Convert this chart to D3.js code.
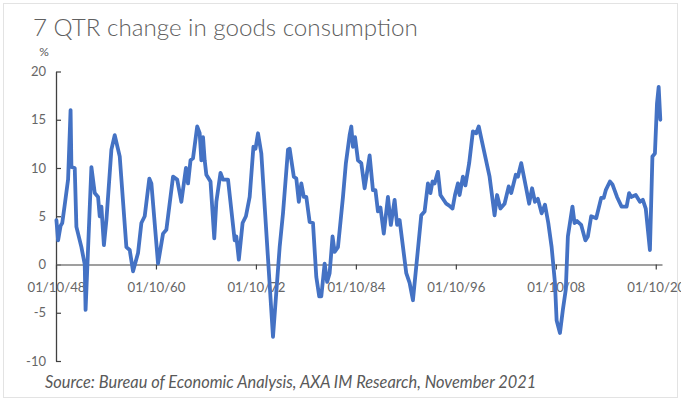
<!DOCTYPE html>
<html>
<head>
<meta charset="utf-8">
<script src="https://cdn.jsdelivr.net/npm/d3@7"></script>
<style>
  html, body { margin: 0; padding: 0; background: #ffffff; }
  svg { display: block; }
</style>
</head>
<body>
<svg id="chart" width="681" height="401"></svg>
<script>
// ---- Data ----
const titleText = "7 QTR change in goods consumption";
const unitLabel = "%";
const sourceText = "Source: Bureau of Economic Analysis, AXA IM Research, November 2021";

const years = [
  1948.8, 1949.0, 1949.3, 1949.5, 1949.8, 1950.2, 1950.5, 1950.6, 1951.0, 1951.2,
  1951.8, 1952.2, 1952.3, 1953.0, 1953.4, 1953.8, 1954.0, 1954.2, 1954.5, 1954.8,
  1955.4, 1955.8, 1956.4, 1957.2, 1957.6, 1958.0, 1958.6, 1959.0, 1959.4, 1959.95,
  1960.2, 1961.0, 1961.6, 1962.0, 1962.8, 1963.3, 1963.8, 1964.35, 1964.6, 1964.9,
  1965.2, 1965.7, 1966.0, 1966.2, 1966.4, 1966.6, 1966.8, 1967.3, 1967.75, 1968.0,
  1968.5, 1968.8, 1969.4, 1970.2, 1970.4, 1970.7, 1971.15, 1971.55, 1972.0, 1972.45,
  1972.7, 1973.0, 1973.4, 1974.8, 1975.6, 1976.0, 1976.6, 1976.8, 1977.3, 1977.6,
  1977.9, 1978.2, 1978.5, 1978.8, 1979.2, 1979.6, 1980.0, 1980.35, 1980.6, 1981.0,
  1981.3, 1981.6, 1981.95, 1982.2, 1982.6, 1983.2, 1983.55, 1984.0, 1984.2, 1984.4,
  1984.65, 1985.0, 1985.4, 1985.8, 1986.4, 1986.8, 1987.1, 1987.4, 1987.7, 1988.1,
  1988.6, 1988.95, 1989.4, 1989.7, 1990.0, 1990.8, 1991.2, 1991.6, 1992.0, 1992.6,
  1993.0, 1993.4, 1993.7, 1993.95, 1994.2, 1994.6, 1994.9, 1995.6, 1995.95, 1996.35,
  1996.65, 1997.0, 1997.2, 1997.6, 1997.9, 1998.35, 1998.8, 1999.2, 1999.5, 1999.8,
  2000.8, 2001.4, 2001.7, 2002.1, 2002.6, 2003.1, 2003.4, 2003.95, 2004.2, 2004.6,
  2005.15, 2005.55, 2005.9, 2006.25, 2006.6, 2007.05, 2007.45, 2007.85, 2008.25, 2008.65,
  2008.85, 2009.25, 2009.6, 2009.95, 2010.2, 2010.75, 2011.0, 2011.3, 2011.8, 2012.3,
  2012.6, 2013.0, 2013.6, 2014.2, 2014.5, 2014.75, 2015.25, 2015.55, 2016.1, 2016.65,
  2017.25, 2017.55, 2017.8, 2018.35, 2018.85, 2019.2, 2019.55, 2020.05, 2020.35, 2020.65,
  2020.9, 2021.1, 2021.3
];

const values = [
  4.6, 2.5, 4.0, 4.3, 6.2, 8.8, 16.0, 10.1, 10.0, 3.9,
  1.8, 0.0, -4.7, 10.1, 7.4, 7.0, 5.0, 6.0, 2.0, 4.6,
  11.9, 13.4, 11.2, 1.8, 1.5, -0.7, 1.2, 4.3, 5.0, 8.9,
  8.4, 0.1, 3.2, 3.6, 9.1, 8.8, 6.5, 10.0, 8.4, 10.8,
  11.0, 14.3, 13.6, 10.8, 13.2, 10.8, 9.3, 8.6, 2.7, 6.5,
  9.5, 8.8, 8.8, 2.5, 2.9, 0.5, 4.3, 5.0, 7.0, 12.2,
  12.0, 13.6, 11.5, -7.5, 1.8, 5.3, 11.9, 12.0, 9.1, 8.9,
  6.5, 8.4, 7.0, 7.0, 4.4, 4.3, -1.3, -3.3, -3.3, 0.1,
  -1.8, -0.9, 2.9, 1.3, 1.8, 7.0, 10.5, 13.4, 14.3, 12.2,
  13.2, 10.8, 10.5, 7.9, 11.3, 7.7, 7.7, 5.5, 5.9, 3.2,
  7.0, 4.1, 6.7, 4.1, 4.6, -0.9, -1.9, -3.7, -0.2, 5.1,
  5.5, 8.4, 7.4, 8.6, 8.4, 9.6, 7.2, 6.3, 6.1, 5.8,
  7.2, 8.4, 7.2, 9.1, 8.2, 10.5, 13.8, 13.6, 14.3, 13.1,
  9.1, 5.1, 7.2, 5.8, 6.3, 8.1, 7.4, 9.3, 9.1, 10.5,
  8.1, 6.3, 7.9, 6.5, 6.8, 5.3, 6.2, 4.3, 1.8, -1.9,
  -5.8, -7.1, -4.7, -2.6, 2.9, 6.0, 4.3, 4.5, 4.1, 2.5,
  2.9, 5.0, 4.8, 6.9, 6.9, 7.7, 8.6, 8.3, 7.0, 6.0,
  6.0, 7.4, 7.0, 7.2, 6.5, 6.7, 5.8, 1.5, 11.2, 11.5,
  16.7, 18.4, 15.0
];

const xTickYears = [1948.75, 1960.75, 1972.75, 1984.75, 1996.75, 2008.75, 2020.75];
const xTickLabels = ["01/10/48", "01/10/60", "01/10/72", "01/10/84", "01/10/96", "01/10/08", "01/10/20"];
const yTicks = [-10, -5, 0, 5, 10, 15, 20];
const xDomain = [1948.75, 2021.5];
const yDomain = [-10, 20];

// ---- Layout ----
const svg = d3.select("#chart");
const plot = { left: 56, right: 662, top: 71.5, bottom: 361 };
const font = "Lato, 'Open Sans', 'DejaVu Sans', sans-serif";
const textColor = "#595959";

const x = d3.scaleLinear().domain(xDomain).range([plot.left, plot.right]);
const y = d3.scaleLinear().domain(yDomain).range([plot.bottom, plot.top]);

// light frame
svg.append("rect")
  .attr("x", 3.5).attr("y", 3.5).attr("width", 674).attr("height", 394)
  .attr("fill", "none").attr("stroke", "#e3e3e3").attr("stroke-width", 1);

function fitWidth(sel, target) {
  const w = sel.node().getComputedTextLength();
  const fs = parseFloat(sel.attr("font-size"));
  if (w > 0) sel.attr("font-size", fs * target / w);
}

// title
const title = svg.append("text")
  .attr("x", 33).attr("y", 36)
  .attr("font-family", font).attr("font-weight", 300)
  .attr("font-size", 22).attr("fill", "#606060")
  .text(titleText);
fitWidth(title, 385);

// unit
svg.append("text")
  .attr("x", 44).attr("y", 56)
  .attr("text-anchor", "middle")
  .attr("font-family", font).attr("font-size", 12).attr("fill", textColor)
  .text(unitLabel);

// y axis (ticks pointing inward)
const yAxis = d3.axisLeft(y)
  .tickValues(yTicks)
  .tickFormat(d3.format("d"))
  .tickSizeInner(-5).tickSizeOuter(0).tickPadding(10);
const gy = svg.append("g")
  .attr("transform", `translate(${plot.left},0)`)
  .call(yAxis);
gy.select(".domain").attr("stroke", "#404040").attr("stroke-width", 1.3);
gy.selectAll(".tick line").attr("stroke", "#404040").attr("stroke-width", 1.2);
gy.selectAll(".tick text")
  .attr("font-family", font).attr("font-size", 13).attr("fill", "#666666")
  .text(d => d < 0 ? "-" + Math.abs(d) : d);

// x axis at zero
const xAxis = d3.axisBottom(x)
  .tickValues(xTickYears)
  .tickFormat((d, i) => xTickLabels[i])
  .tickSizeInner(5).tickSizeOuter(0).tickPadding(13);
const gx = svg.append("g")
  .attr("transform", `translate(0,${y(0)})`)
  .call(xAxis);
gx.select(".domain").attr("stroke", "#7f7f7f").attr("stroke-width", 1.4);
gx.selectAll(".tick line").attr("stroke", "#404040").attr("stroke-width", 1.2);
gx.selectAll(".tick text")
  .attr("font-family", font).attr("font-size", 14).attr("fill", "#666666");
gx.selectAll(".tick text").each(function () { fitWidth(d3.select(this), 58); });

// data line
const pts = years.map((yr, i) => [yr, values[i]]);
const line = d3.line().x(d => x(d[0])).y(d => y(d[1])).curve(d3.curveLinear);
svg.append("path")
  .datum(pts)
  .attr("d", line)
  .attr("fill", "none")
  .attr("stroke", "#4472C4")
  .attr("stroke-width", 3.8)
  .attr("stroke-linejoin", "round")
  .attr("stroke-linecap", "round");

// source
const src = svg.append("text")
  .attr("x", 45).attr("y", 388)
  .attr("font-family", font).attr("font-style", "italic")
  .attr("font-size", 13).attr("fill", textColor)
  .text(sourceText);
fitWidth(src, 492);
</script>
</body>
</html>
